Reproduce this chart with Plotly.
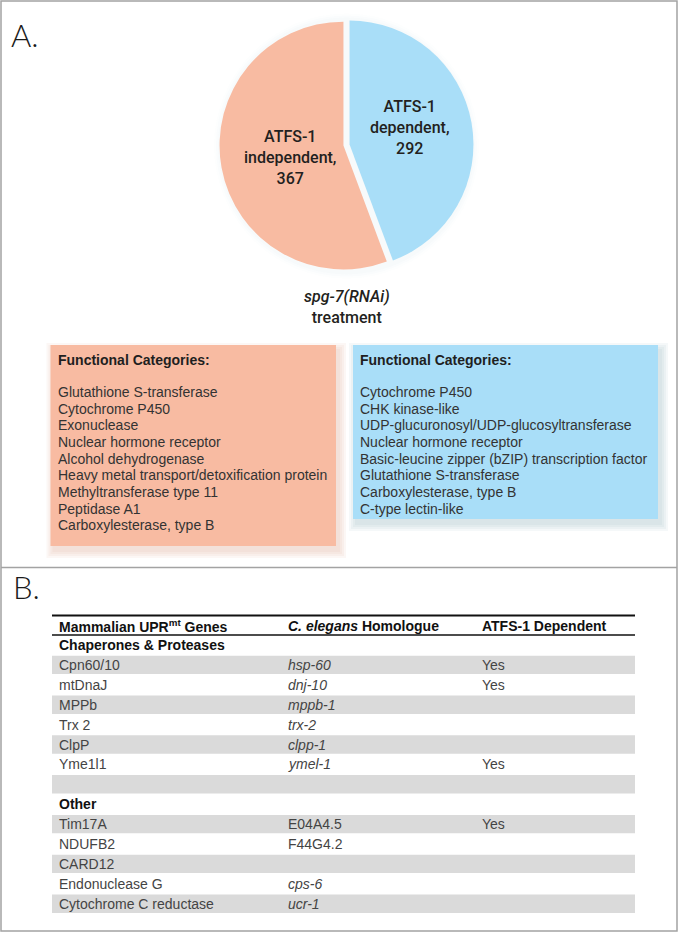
import plotly.graph_objects as go

W, H = 679, 932

# pie: ATFS-1 dependent vs independent genes under spg-7(RNAi)
slice_labels = ["dependent", "independent"]
slice_values = [292, 367]
slice_colors = ["#A9DEF8", "#F8BBA2"]
slice_text = ["ATFS-1<br>dependent,<br>292", "ATFS-1<br>independent,<br>367"]
pie_caption = "<i>spg-7(RNAi)</i><br>treatment"

box_title = "Functional Categories:"
independent_categories = [
    "Glutathione S-transferase",
    "Cytochrome P450",
    "Exonuclease",
    "Nuclear hormone receptor",
    "Alcohol dehydrogenase",
    "Heavy metal transport/detoxification protein",
    "Methyltransferase type 11",
    "Peptidase A1",
    "Carboxylesterase, type B",
]
dependent_categories = [
    "Cytochrome P450",
    "CHK kinase-like",
    "UDP-glucuronosyl/UDP-glucosyltransferase",
    "Nuclear hormone receptor",
    "Basic-leucine zipper (bZIP) transcription factor",
    "Glutathione S-transferase",
    "Carboxylesterase, type B",
    "C-type lectin-like",
]

table_columns = [
    "Mammalian UPR<sup>mt</sup> Genes",
    "<i>C. elegans</i> Homologue",
    "ATFS-1 Dependent",
]
mammalian_genes = [
    "Chaperones &amp; Proteases", "Cpn60/10", "mtDnaJ", "MPPb", "Trx 2", "ClpP",
    "Yme1l1", "", "Other", "Tim17A", "NDUFB2", "CARD12", "Endonuclease G",
    "Cytochrome C reductase",
]
homologues = [
    "", "<i>hsp-60</i>", "<i>dnj-10</i>", "<i>mppb-1</i>", "<i>trx-2</i>",
    "<i>clpp-1</i>", "<i>ymel-1</i>", "", "", "E04A4.5", "F44G4.2", "",
    "<i>cps-6</i>", "<i>ucr-1</i>",
]
atfs1_dependent = ["", "Yes", "Yes", "", "", "", "Yes", "", "", "Yes", "", "", "", ""]
section_rows = [0, 8]


def fx(x):
    return x / W


def fy(y):
    return 1 - y / H


shapes = []
annotations = []


def text(x, y, s, size=14, color="#333333", family="Liberation Sans", anchor="left", weight=None):
    if not s:
        return
    font = dict(size=size, color=color, family=family)
    if weight:
        font["weight"] = weight
    annotations.append(dict(
        x=fx(x), y=fy(y), xref="paper", yref="paper", text=s, showarrow=False,
        xanchor=anchor, yanchor="middle", font=font, borderpad=0,
    ))


def rect(x0, y0, x1, y1, fill, line=None):
    shapes.append(dict(
        type="rect", xref="paper", yref="paper", x0=fx(x0), x1=fx(x1), y0=fy(y1), y1=fy(y0),
        fillcolor=fill, line=line or dict(width=0), layer="below",
    ))


def hline(x0, x1, y, width, color="#111111"):
    shapes.append(dict(
        type="line", xref="paper", yref="paper", x0=fx(x0), x1=fx(x1), y0=fy(y), y1=fy(y),
        line=dict(color=color, width=width),
    ))


# frame around the two panels
shapes.append(dict(type="rect", xref="paper", yref="paper", x0=fx(1), x1=fx(677), y0=fy(931), y1=fy(1),
                   line=dict(color="#a3a3a3", width=1.5)))
hline(1, 677, 567.5, 1.5, "#a3a3a3")

text(10, 35, "A.", size=31, color="#1a1a1a", family="Lato", weight=300)
text(12, 587, "B.", size=31, color="#1a1a1a", family="Lato", weight=300)

# pie, with a faint halo behind it
cx, cy, half = 346.5, 145, 127
for k, alpha in enumerate([0.018, 0.014, 0.01]):
    R = half + 1.5 + 2 * k
    shapes.append(dict(type="circle", xref="paper", yref="paper", x0=fx(cx - R), x1=fx(cx + R),
                       y0=fy(cy + R + 1), y1=fy(cy - R + 1), fillcolor=f"rgba(90,130,160,{alpha})",
                       line=dict(width=0), layer="below"))

fig = go.Figure()
fig.add_trace(go.Pie(
    values=slice_values, labels=slice_labels, sort=False, direction="clockwise", rotation=0,
    marker=dict(colors=slice_colors, line=dict(width=0)), pull=0.025, textinfo="none",
    hoverinfo="label+value", showlegend=False,
    domain=dict(x=[fx(cx - half), fx(cx + half)], y=[fy(cy + half), fy(cy - half)]),
))

pie_font = "Roboto"
text(409, 127, slice_text[0], size=16, color="#231f20", family=pie_font, anchor="center", weight=500)
text(290, 157, slice_text[1], size=16, color="#231f20", family=pie_font, anchor="center", weight=500)
text(cx, 307, pie_caption, size=16, color="#231f20", family=pie_font, anchor="center", weight=500)

# functional category boxes
boxes = [
    (50.5, 336, 546, "#F8BBA2", (215, 140, 110), independent_categories),
    (353, 658, 519, "#A9DEF8", (110, 150, 175), dependent_categories),
]
for x0, x1, y1, fill, sh, items in boxes:
    for k in range(4):
        e = 1 + 2 * k
        rect(x0 + 3 - e, 345 + 5 - e, x1 + 3 + e, y1 + 5 + e, f"rgba({sh[0]},{sh[1]},{sh[2]},0.07)")
    rect(x0, 345, x1, y1, fill)
    text(x0 + 6, 359.5, box_title, size=14, color="#1f1f1f", weight=700)
    for i, item in enumerate(items):
        text(x0 + 6, 392 + 16.67 * i, item, size=14, color="#333333")

# table
tx0, tx1 = 52, 635
col_x = [58, 287, 481]
hline(tx0, tx1, 615.5, 2)
hline(tx0, tx1, 635, 1.5)
for j, col in enumerate(table_columns):
    text(col_x[j], 626, f"<b>{col}</b>", size=14, color="#111111")

row_y0, row_step = 645, 19.9
for i, gene in enumerate(mammalian_genes):
    yc = row_y0 + row_step * i
    if i % 2 == 1:
        rect(tx0, yc - 9.2, tx1, yc + 9.2, "#DADADA")
    if i in section_rows:
        text(col_x[0], yc, f"<b>{gene}</b>", size=14, color="#111111")
        continue
    text(col_x[0], yc, gene, size=14, color="#444444")
    text(col_x[1], yc, homologues[i], size=14, color="#444444")
    text(col_x[2], yc, atfs1_dependent[i], size=14, color="#444444")

fig.update_layout(
    width=W, height=H, margin=dict(l=0, r=0, t=0, b=0),
    paper_bgcolor="white", plot_bgcolor="white",
    shapes=shapes, annotations=annotations,
)
# drop the browser's default 8px body margin so the figure fills the window
fig.write_html("out.html", config={"displayModeBar": False},
               post_script="document.body.style.margin = '0';")
